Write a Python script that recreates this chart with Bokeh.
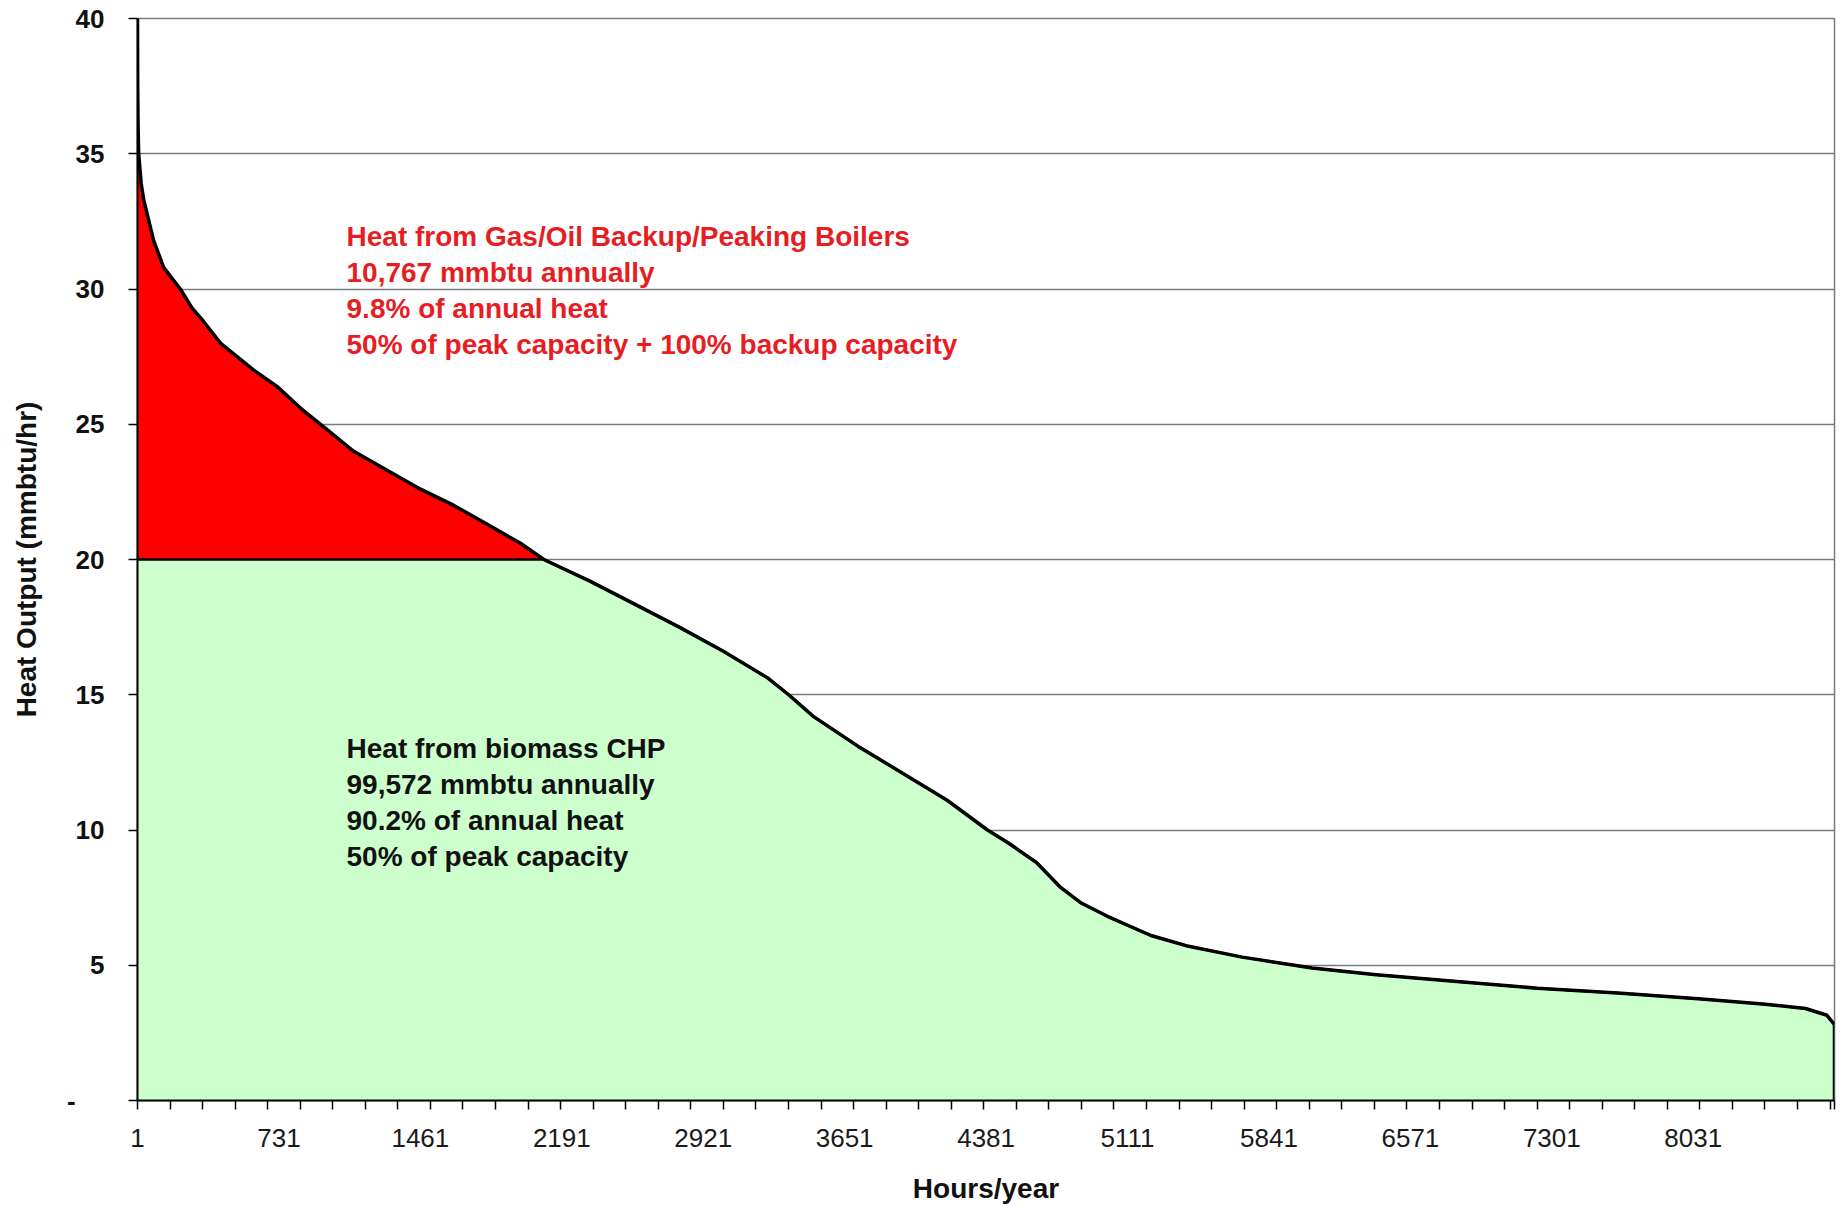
import numpy as np
from bokeh.plotting import figure
from bokeh.models import Range1d, FixedTicker
from bokeh.embed import file_html
from bokeh.resources import INLINE
from bokeh.core.properties import value

# ---- data ----
hours = [1, 2, 4, 7, 20, 33, 84, 136, 222, 282, 342, 429, 515, 601, 721, 842,
         962, 1117, 1289, 1462, 1634, 1806, 1978, 2098, 2336, 2567, 2797, 3027,
         3258, 3362, 3489, 3719, 3950, 4180, 4388, 4500, 4641, 4762, 4872, 5010, 5232,
         5426, 5703, 6063, 6395, 6811, 7226, 7641, 8056, 8389, 8610, 8721, 8760]
heat = [40.0, 37.5, 36.0, 35.0, 33.9, 33.3, 31.8, 30.8, 30.0, 29.3, 28.8, 28.0,
        27.5, 27.0, 26.4, 25.6, 24.9, 24.0, 23.3, 22.6, 22.0, 21.3, 20.6, 20.0,
        19.2, 18.35, 17.5, 16.6, 15.6, 15.0, 14.2, 13.1, 12.1, 11.1, 10.0, 9.5, 8.8,
        7.9, 7.3, 6.8, 6.1, 5.7, 5.3, 4.9, 4.65, 4.4, 4.15, 3.97, 3.76, 3.57,
        3.4, 3.15, 2.8]
biomass_capacity = 20.0

x_tick_values = [1, 731, 1461, 2191, 2921, 3651, 4381, 5111, 5841, 6571, 7301, 8031]
y_tick_values = [0, 5, 10, 15, 20, 25, 30, 35, 40]
y_tick_text = ["-\u00a0\u00a0\u00a0\u00a0", "5", "10", "15", "20", "25", "30", "35", "40"]

boiler_lines = ["Heat from Gas/Oil Backup/Peaking Boilers",
                "10,767 mmbtu annually",
                "9.8% of annual heat",
                "50% of peak capacity + 100% backup capacity"]
biomass_lines = ["Heat from biomass CHP",
                 "99,572 mmbtu annually",
                 "90.2% of annual heat",
                 "50% of peak capacity"]

# ---- styling / layout constants ----
FONT = "Liberation Sans"
RED_FILL = "#ff0000"
GREEN_FILL = "#ccffcc"
GRID = "#7a7a7a"

h = np.array(hours, dtype=float)
v = np.array(heat, dtype=float)
red_top = np.maximum(v, biomass_capacity)
green_top = np.minimum(v, biomass_capacity)

p = figure(frame_width=1697, frame_height=1082,
           min_border_left=137, min_border_top=18, min_border_right=6, min_border_bottom=0,
           x_range=Range1d(1, 8760), y_range=Range1d(0, 40),
           output_backend="svg", toolbar_location=None,
           background_fill_color="white", border_fill_color="white")

p.outline_line_color = GRID
p.outline_line_width = 1.5

# areas
p.varea(x=h, y1=biomass_capacity, y2=red_top, fill_color=RED_FILL, fill_alpha=1.0)
p.varea(x=h, y1=0, y2=green_top, fill_color=GREEN_FILL, fill_alpha=1.0)
# outlines
p.line(h, green_top, line_color="black", line_width=2.5)
p.line(h, v, line_color="black", line_width=3.5, line_join="round")
p.segment(x0=[h[-1]], y0=[0], x1=[h[-1]], y1=[v[-1]], line_color="black", line_width=3.5)

# texts
text_x = 1080
red_start, black_start, step = 31.95, 13.01, 1.33
p.text(x=[text_x] * len(boiler_lines),
       y=[red_start - i * step for i in range(len(boiler_lines))],
       text=boiler_lines, text_font=value(FONT), text_font_style="bold",
       text_font_size="28px", text_color="#e61e24", text_baseline="alphabetic")
p.text(x=[text_x] * len(biomass_lines),
       y=[black_start - i * step for i in range(len(biomass_lines))],
       text=biomass_lines, text_font=value(FONT), text_font_style="bold",
       text_font_size="28px", text_color="#111111", text_baseline="alphabetic")

# grids
p.xgrid.visible = False
p.ygrid.ticker = FixedTicker(ticks=y_tick_values[1:])
p.ygrid.grid_line_color = GRID
p.ygrid.grid_line_width = 1.5

# x axis
xa = p.xaxis[0]
xa.ticker = FixedTicker(ticks=x_tick_values, minor_ticks=list(range(1, 8761, 168)) + [8760])
xa.major_tick_out = 0
xa.major_tick_in = 0
xa.minor_tick_out = 9
xa.minor_tick_in = 0
xa.minor_tick_line_color = "black"
xa.minor_tick_line_width = 1.5
xa.axis_line_color = "black"
xa.axis_line_width = 2
xa.major_label_standoff = 19
xa.major_label_text_font = FONT
xa.major_label_text_font_size = "26px"
xa.major_label_text_color = "#1a1a1a"
xa.axis_label = "Hours/year"
xa.axis_label_text_font = FONT
xa.axis_label_text_font_style = "bold"
xa.axis_label_text_font_size = "28px"
xa.axis_label_text_color = "#111111"
xa.axis_label_standoff = 23

# y axis
ya = p.yaxis[0]
ya.ticker = FixedTicker(ticks=y_tick_values)
ya.major_label_overrides = {t: s for t, s in zip(y_tick_values, y_tick_text)}
ya.major_tick_out = 9
ya.major_tick_in = 0
ya.minor_tick_out = 0
ya.minor_tick_in = 0
ya.major_tick_line_color = "black"
ya.major_tick_line_width = 1.5
ya.axis_line_color = "black"
ya.axis_line_width = 2
ya.major_label_standoff = 24
ya.major_label_text_font = FONT
ya.major_label_text_font_style = "bold"
ya.major_label_text_font_size = "26px"
ya.major_label_text_color = "#111111"
ya.axis_label = "Heat Output (mmbtu/hr)"
ya.axis_label_text_font = FONT
ya.axis_label_text_font_style = "bold"
ya.axis_label_text_font_size = "28px"
ya.axis_label_text_color = "#111111"
ya.axis_label_standoff = 22

open("out.html", "w").write(file_html(p, INLINE))
